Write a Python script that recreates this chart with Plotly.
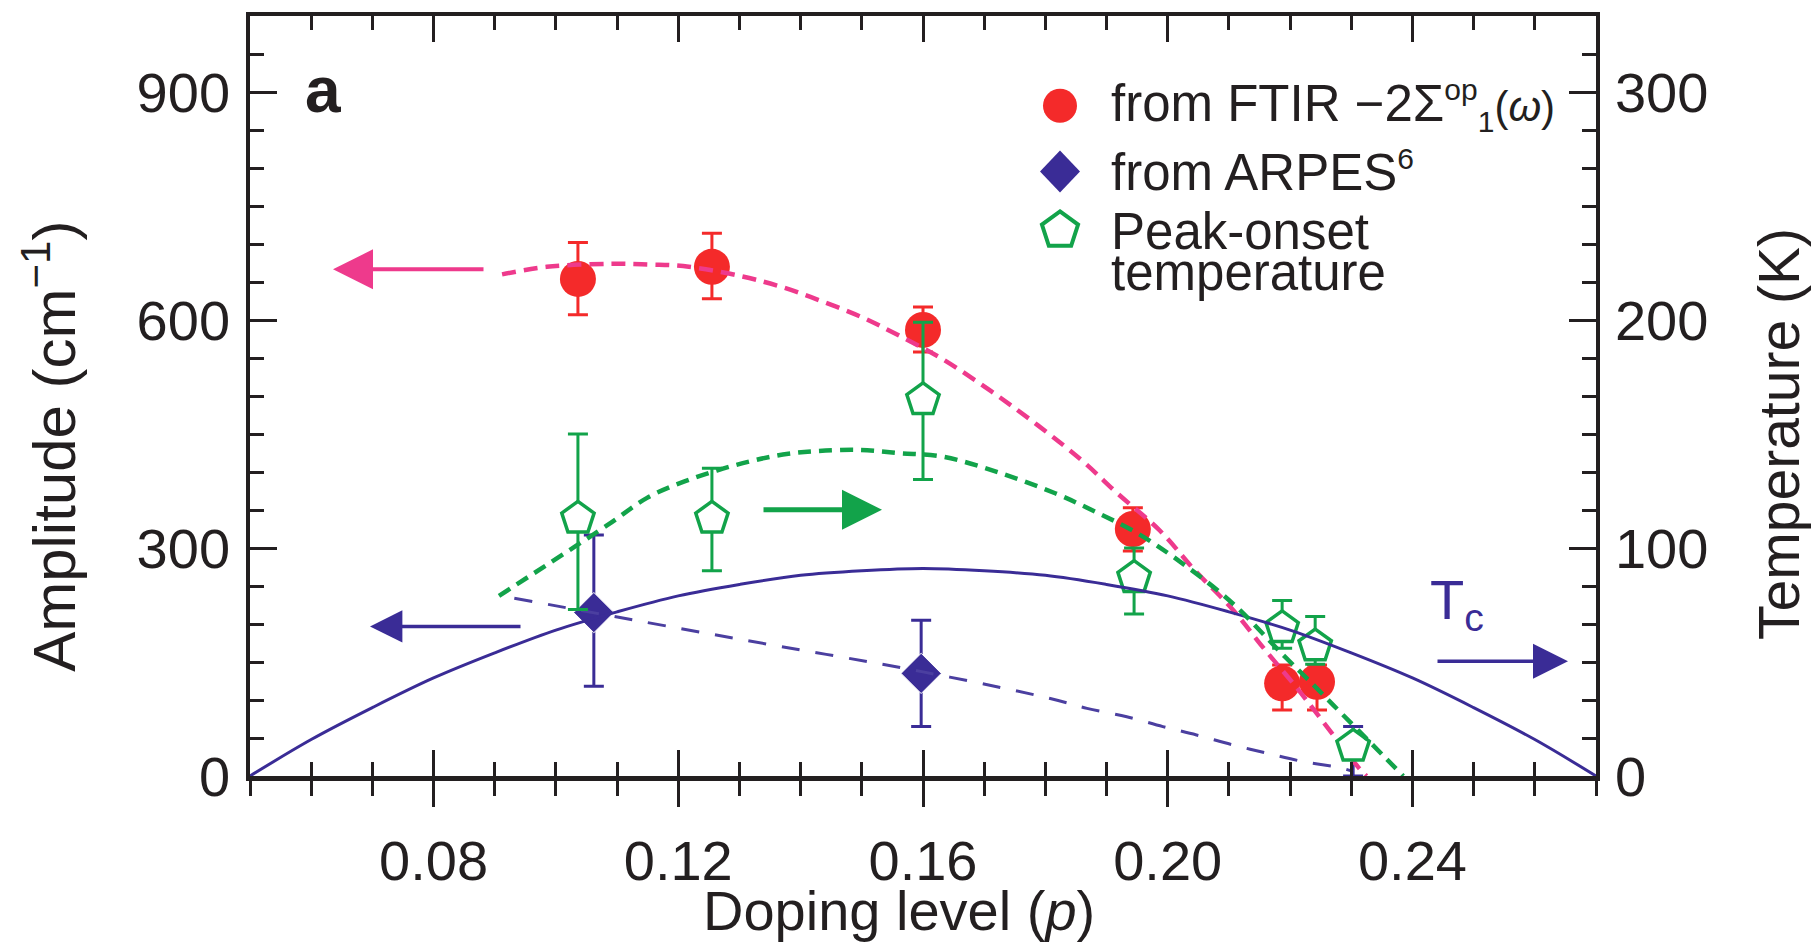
import plotly.graph_objects as go

# ---------------- data ----------------
# FTIR amplitude (left axis, cm^-1)
ftir_p = [0.1036, 0.1255, 0.1600, 0.1943, 0.2187, 0.2244]
ftir_amp = [654, 670, 587, 325, 122, 124]
ftir_err_plus = [48, 44, 30, 28, 24, 22]
ftir_err_minus = [47, 42, 29, 29, 35, 37]

# ARPES amplitude (left axis, cm^-1)
arpes_p = [0.1062, 0.1597, 0.2303]
arpes_amp = [215, 135, 0]
arpes_err_plus = [102, 70, 65]
arpes_err_minus = [97, 70, 0]

# Peak-onset temperature (right axis, K)
onset_p = [0.1036, 0.1255, 0.1600, 0.1945, 0.2187, 0.2241, 0.2303]
onset_T = [113, 113, 165, 87, 65, 57, 13]
onset_err_plus = [37, 22, 34, 13, 12, 13, 0]
onset_err_minus = [40, 23, 35, 16, 9, 8, 0]

# Dashed guide through FTIR points (left axis)
ftir_fit_p = [0.0912, 0.0985, 0.1093, 0.1154, 0.1208, 0.1301, 0.1371, 0.1437,
              0.1502, 0.1562, 0.1633, 0.1745, 0.1857, 0.1919, 0.1987, 0.2045,
              0.2105, 0.2159, 0.2211, 0.2260, 0.2311, 0.2325]
ftir_fit_amp = [660, 670, 674, 673, 671, 658, 643, 624, 603, 579, 548, 487,
                417, 371, 323, 270, 220, 166, 116, 65, 12, 0]

# Dashed guide through ARPES points (left axis)
arpes_fit_p = [0.0932, 0.1067, 0.1300, 0.1600, 0.1808, 0.1868, 0.1933, 0.1992,
               0.2047, 0.2106, 0.2162, 0.2221, 0.2281, 0.2303]
arpes_fit_amp = [234, 214, 180, 137, 102, 89, 78, 65, 54, 41, 30, 19, 11, 6]

# Dashed guide through peak-onset temperatures (right axis)
onset_fit_p = [0.0907, 0.1084, 0.1149, 0.1208, 0.1263, 0.1317, 0.1371, 0.1427,
               0.1497, 0.1562, 0.1633, 0.1725, 0.1816, 0.1881, 0.1947, 0.2015,
               0.2105, 0.2189, 0.2238, 0.2271, 0.2352, 0.2385]
onset_fit_T = [79, 110, 122, 129, 134, 138, 141, 142.5, 143, 141.6, 140, 133,
               124, 116, 107, 95, 76, 53, 40, 31, 9, 0]

# Tc dome (right axis)
tc_p = [0.05, 0.06, 0.07, 0.08, 0.09, 0.10, 0.11, 0.12, 0.13, 0.14, 0.15, 0.16,
        0.17, 0.18, 0.19, 0.20, 0.21, 0.22, 0.23, 0.24, 0.25, 0.26, 0.27]
tc_T = [0, 16, 30, 43, 54, 64, 72, 79, 84, 88, 90, 91,
        90, 88, 84, 79, 72, 64, 54, 43, 30, 16, 0]

x_range = [0.05, 0.27]
amp_range = [0, 1000]
temp_range = [0, 1000 / 3]

# ---------------- styles ----------------
RED = "#f42a2a"
PINK = "#ee3a8c"
BLUE = "#3a2c96"
GREEN = "#12a34a"
INK = "#231f20"
FONT = "Liberation Sans, Arial, Helvetica, sans-serif"

W, H = 1812, 946
ML, MR, MT, MB = 250, 216, 14, 170
PW, PH = W - ML - MR, H - MT - MB


def px(xp):
    return (xp - ML) / PW


def py(yp):
    return (H - MB - yp) / PH


fig = go.Figure()

# markers (drawn first so the guide lines sit on top)
fig.add_trace(go.Scatter(
    x=ftir_p, y=ftir_amp, mode="markers",
    marker=dict(symbol="circle", size=36, color=RED, opacity=1),
    error_y=dict(type="data", symmetric=False, array=ftir_err_plus,
                 arrayminus=ftir_err_minus, color=RED, thickness=3, width=10),
    xaxis="x", yaxis="y", showlegend=False))

fig.add_trace(go.Scatter(
    x=arpes_p, y=arpes_amp, mode="markers",
    marker=dict(symbol="diamond", size=[31, 31, 0], color=BLUE, opacity=1),
    error_y=dict(type="data", symmetric=False, array=arpes_err_plus,
                 arrayminus=arpes_err_minus, color=BLUE, thickness=3, width=10),
    xaxis="x", yaxis="y", showlegend=False))

fig.add_trace(go.Scatter(
    x=ftir_fit_p, y=ftir_fit_amp, mode="lines", line_shape="spline",
    line=dict(color=PINK, width=4.5, dash="14px,8px"),
    xaxis="x", yaxis="y", showlegend=False))

fig.add_trace(go.Scatter(
    x=arpes_fit_p, y=arpes_fit_amp, mode="lines", line_shape="spline",
    line=dict(color="#4b3fa0", width=3, dash="18px,16px"),
    xaxis="x", yaxis="y", showlegend=False))

fig.add_trace(go.Scatter(
    x=onset_p, y=onset_T, mode="markers",
    marker=dict(symbol="pentagon", size=34, color="white", opacity=1,
                line=dict(color=GREEN, width=3.5)),
    error_y=dict(type="data", symmetric=False, array=onset_err_plus,
                 arrayminus=onset_err_minus, color=GREEN, thickness=3, width=10),
    xaxis="x", yaxis="y2", showlegend=False))

fig.add_trace(go.Scatter(
    x=tc_p, y=tc_T, mode="lines", line_shape="spline",
    line=dict(color=BLUE, width=3),
    xaxis="x", yaxis="y2", showlegend=False))

fig.add_trace(go.Scatter(
    x=onset_fit_p, y=onset_fit_T, mode="lines", line_shape="spline",
    line=dict(color=GREEN, width=4.5, dash="13px,8px"),
    xaxis="x", yaxis="y2", showlegend=False))

# empty trace to host the tick-only overlay x axis
fig.add_trace(go.Scatter(x=[], y=[], xaxis="x2", yaxis="y",
                         showlegend=False, hoverinfo="skip"))

tickfont = dict(family=FONT, size=56, color=INK)

fig.update_layout(
    width=W, height=H,
    margin=dict(l=ML, r=MR, t=MT, b=MB),
    paper_bgcolor="white", plot_bgcolor="white",
    font=dict(family=FONT, color=INK),
    showlegend=False,
    xaxis=dict(
        range=x_range, anchor="y", showgrid=False, zeroline=False,
        showline=True, linewidth=5, linecolor=INK,
        ticks="outside", ticklen=26, tickwidth=3, tickcolor=INK,
        tick0=0, dtick=0.04, tickformat=".2f", tickfont=tickfont,
        ticklabelstandoff=6,
        minor=dict(ticks="outside", ticklen=15, tickwidth=3, tickcolor=INK,
                   tick0=0, dtick=0.01, showgrid=False),
    ),
    xaxis2=dict(
        overlaying="x", matches="x", anchor="y", side="bottom",
        showgrid=False, zeroline=False, showticklabels=False,
        showline=True, linewidth=3.5, linecolor=INK, mirror="ticks",
        ticks="inside", ticklen=26, tickwidth=3, tickcolor=INK,
        tick0=0, dtick=0.04,
        minor=dict(ticks="inside", ticklen=14, tickwidth=3, tickcolor=INK,
                   tick0=0, dtick=0.01, showgrid=False),
    ),
    yaxis=dict(
        range=amp_range, anchor="x", showgrid=False, zeroline=False,
        showline=True, linewidth=3.5, linecolor=INK,
        ticks="inside", ticklen=27, tickwidth=3, tickcolor=INK,
        tick0=0, dtick=300, tickfont=tickfont, ticklabelstandoff=5,
        minor=dict(ticks="inside", ticklen=14, tickwidth=3, tickcolor=INK,
                   tick0=0, dtick=50, showgrid=False),
    ),
    yaxis2=dict(
        range=temp_range, overlaying="y", side="right", anchor="x",
        showgrid=False, zeroline=False,
        showline=True, linewidth=3.5, linecolor=INK,
        ticks="inside", ticklen=27, tickwidth=3, tickcolor=INK,
        tick0=0, dtick=100, tickfont=tickfont, ticklabelstandoff=4,
        minor=dict(ticks="inside", ticklen=14, tickwidth=3, tickcolor=INK,
                   tick0=0, dtick=50 / 3, showgrid=False),
    ),
)

ann = []
# axis titles
ann.append(dict(text="Doping level (<i>p</i>)", x=px(899), y=py(911),
                xref="paper", yref="paper", xanchor="center", yanchor="middle",
                showarrow=False, font=dict(family=FONT, size=56, color=INK)))
ann.append(dict(text="Amplitude (cm<sup>−1</sup>)", x=px(50), y=py(446),
                xref="paper", yref="paper", xanchor="center", yanchor="middle",
                textangle=-90, showarrow=False,
                font=dict(family=FONT, size=60, color=INK)))
ann.append(dict(text="Temperature (K)", x=px(1779), y=py(433),
                xref="paper", yref="paper", xanchor="center", yanchor="middle",
                textangle=-90, showarrow=False,
                font=dict(family=FONT, size=57, color=INK)))
# panel label
ann.append(dict(text="<b>a</b>", x=px(323), y=py(88), xref="paper", yref="paper",
                xanchor="center", yanchor="middle", showarrow=False,
                font=dict(family=FONT, size=64, color=INK)))
# legend texts
legfont = dict(family=FONT, size=51, color=INK)
SMALL = '<span style="font-size:30px">{}</span>'
legend_rows = [
    ("from FTIR −2Σ<sup>" + SMALL.format("op") + "</sup><sub>" + SMALL.format("1")
     + "</sub><span style=\"font-size:42px\">(<i>ω</i>)</span>", 104),
    ("from ARPES<sup>" + SMALL.format("6") + "</sup>", 170),
    ("Peak-onset", 230),
    ("temperature", 271),
]
for txt, yy in legend_rows:
    ann.append(dict(text=txt, x=px(1109), y=py(yy), xref="paper", yref="paper",
                    xanchor="left", yanchor="middle", showarrow=False,
                    font=legfont))
# Tc label
ann.append(dict(text="T<sub>c</sub>", x=px(1428), y=py(603), xref="paper",
                yref="paper", xanchor="left", yanchor="middle", showarrow=False,
                font=dict(family=FONT, size=56, color=BLUE)))

# arrows (tip, tail in pixels)
for tip, tail, col, w, s in [((333, 268), (485, 268), PINK, 4, 2.0),
                             ((370, 626), (522, 626), BLUE, 3.5, 1.85),
                             ((882, 509), (762, 509), GREEN, 5, 1.6),
                             ((1568, 661), (1436, 661), BLUE, 3.5, 2.0)]:
    ann.append(dict(text="", x=px(tip[0]), y=py(tip[1]), xref="paper",
                    yref="paper", ax=tail[0] - tip[0], ay=tail[1] - tip[1],
                    axref="pixel", ayref="pixel", showarrow=True,
                    arrowhead=2, arrowwidth=w, arrowsize=s, arrowcolor=col))
fig.update_layout(annotations=ann)

# legend swatches
shapes = []
shapes.append(dict(type="circle", xref="paper", yref="paper",
                   xsizemode="pixel", ysizemode="pixel",
                   xanchor=px(1060), yanchor=py(104),
                   x0=-17, x1=17, y0=-17, y1=17,
                   fillcolor=RED, line=dict(width=0)))
shapes.append(dict(type="path", xref="paper", yref="paper",
                   xsizemode="pixel", ysizemode="pixel",
                   xanchor=px(1060), yanchor=py(170),
                   path="M0,21 L20,0 L0,-21 L-20,0 Z",
                   fillcolor=BLUE, line=dict(width=0)))
shapes.append(dict(type="path", xref="paper", yref="paper",
                   xsizemode="pixel", ysizemode="pixel",
                   xanchor=px(1060), yanchor=py(229),
                   path="M0,19 L18.07,5.87 L11.17,-15.37 L-11.17,-15.37 L-18.07,5.87 Z",
                   fillcolor="white", line=dict(color=GREEN, width=4)))
fig.update_layout(shapes=shapes)

fig.write_html("out.html")
